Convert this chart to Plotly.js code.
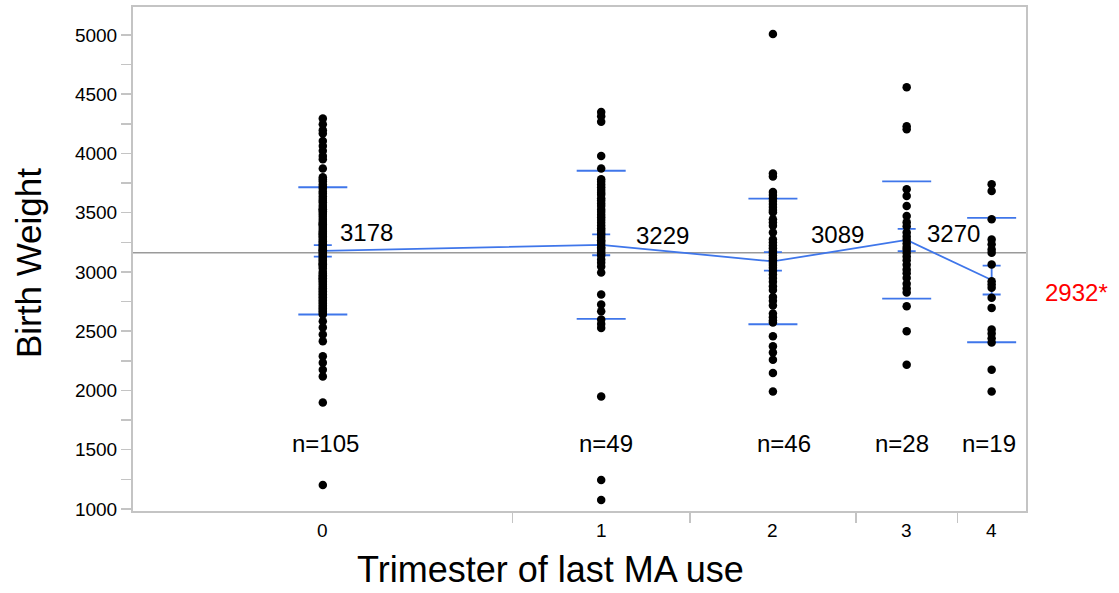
<!DOCTYPE html>
<html>
<head>
<meta charset="utf-8">
<script src="https://cdn.plot.ly/plotly-3.0.1.min.js"></script>
<style>html,body{margin:0;padding:0;background:#fff}#chart{width:1119px;height:593px}</style>
</head>
<body>
<div id="chart"></div>
<script>
// ---- data ----
const categories = ["0", "1", "2", "3", "4"];
const groupN = [105, 49, 46, 28, 19];
const groupMeans = [3178, 3229, 3089, 3270, 2932];
const meanLabels = ["3178", "3229", "3089", "3270", "2932*"];
const groupSD = [537, 625, 530, 495, 525];
const groupSE = [48, 88, 78, 94, 122];
const grandMean = 3163;
const yTickVals = [1000, 1500, 2000, 2500, 3000, 3500, 4000, 4500, 5000];

const weights0 = [4296, 4247, 4197, 4169, 4106, 4064, 4022, 3979, 3951, 3873,
  3800, 3782, 3765, 3741, 3722, 3705, 3680, 3663, 3640, 3618, 3601, 3588, 3566, 3549, 3527,
  3512, 3498, 3482, 3466, 3447, 3431, 3416, 3400, 3388, 3371, 3355, 3342, 3329, 3314, 3300,
  3288, 3271, 3260, 3247, 3235, 3222, 3210, 3197, 3185, 3172, 3160, 3148, 3137, 3121, 3110,
  3096, 3085, 3071, 3058, 3045, 3030, 3002, 2988, 2972, 2961, 2948, 2933, 2919, 2906, 2894,
  2878, 2863, 2851, 2838, 2822, 2811, 2797, 2786, 2771, 2759, 2746, 2733, 2718, 2705, 2692,
  2679, 2666, 2653, 2641, 3530, 3405, 3183, 2942, 3320, 3065,
  2584, 2531, 2472, 2415, 2288, 2235, 2175, 2119, 1899, 1203];
const weights1 = [4349, 4315, 4267, 3979, 3873,
  3782, 3761, 3738, 3714, 3692, 3668, 3651, 3622, 3603, 3578, 3556, 3528, 3507, 3482, 3461,
  3438, 3416, 3392, 3369, 3351, 3328, 3311, 3289, 3268, 3252, 3231, 3208, 3196, 3178, 3159, 3140,
  3106, 3078, 3047, 2996, 2810, 2725, 2669, 2598, 2560, 2528, 1950, 1245, 1076];
const weights2 = [5008, 3830, 3805,
  3675, 3650, 3622, 3598, 3574, 3548, 3524, 3505,
  3444, 3418, 3390, 3334,
  3275, 3248, 3224, 3200, 3178, 3160, 3138, 3118, 3098, 3078, 3058, 3036, 3008, 2978, 2949,
  2918, 2879, 2848, 2788, 2757, 2718, 2650, 2619, 2590, 2573,
  2457, 2373, 2320, 2260, 2148, 1992];
const weights3 = [4558, 4230, 4205, 3698, 3641, 3557, 3472, 3419, 3385, 3334, 3300, 3270, 3240,
  3210, 3190, 3160, 3130, 3100, 3060, 3021, 2990, 2950, 2900, 2860, 2827, 2711, 2499, 2218];
const weights4 = [3740, 3683, 3444, 3275, 3233, 3190, 3162, 3064, 2922, 2894, 2866, 2782, 2697,
  2514, 2480, 2440, 2404, 2175, 1992];
const groupWeights = [weights0, weights1, weights2, weights3, weights4];

// ---- layout of categories: width proportional to group size ----
const total = groupN.reduce((a, b) => a + b, 0);
const centers = [], bounds = [];
let acc = 0;
groupN.forEach((n, i) => {
  centers.push(acc + n / 2);
  acc += n;
  if (i < groupN.length - 1) bounds.push(acc);
});

const blue = '#3f76ea';
const font = 'Liberation Sans, Arial, Helvetica, sans-serif';

const dotX = [], dotY = [];
groupWeights.forEach((arr, i) => arr.forEach(v => { dotX.push(centers[i]); dotY.push(v); }));

const traces = [
  { // SD lines
    x: centers.concat(centers),
    y: groupMeans.map((m, i) => m + groupSD[i]).concat(groupMeans.map((m, i) => m - groupSD[i])),
    mode: 'markers', type: 'scatter', hoverinfo: 'skip',
    marker: { symbol: 'line-ew', size: 35, line: { color: blue, width: 1.8 } }
  },
  { // mean line with SE bars
    x: centers, y: groupMeans, mode: 'lines', type: 'scatter',
    line: { color: blue, width: 1.8 },
    error_y: { type: 'data', array: groupSE, visible: true, color: blue, thickness: 1.8, width: 9 }
  },
  { // data points
    x: dotX, y: dotY, mode: 'markers', type: 'scatter',
    marker: { color: '#000', size: 8.5 }
  }
];

const annotations = [];
const meanShift = [[44, 18], [61, 9], [65, 27], [47, 6], [85, -12]];
groupMeans.forEach((m, i) => {
  annotations.push({
    x: centers[i], y: m, xref: 'x', yref: 'y', text: meanLabels[i], showarrow: false,
    xshift: meanShift[i][0], yshift: meanShift[i][1],
    font: { family: font, size: 24, color: i === 4 ? '#ff0000' : '#000' }
  });
});
const nShift = [3, 5, 11, -5, -3];
groupN.forEach((n, i) => {
  annotations.push({
    x: centers[i], y: 1549, xref: 'x', yref: 'y', text: 'n=' + n, showarrow: false,
    xshift: nShift[i], font: { family: font, size: 24, color: '#000' }
  });
});
categories.forEach((c, i) => {
  annotations.push({
    x: centers[i], y: -0.038, xref: 'x', yref: 'paper', yanchor: 'middle', text: c,
    showarrow: false, font: { family: font, size: 19, color: '#000' }
  });
});
annotations.push({
  x: -0.1176, y: 0.492, xref: 'paper', yref: 'paper', text: 'Birth Weight', textangle: -90,
  showarrow: false, xanchor: 'center', yanchor: 'middle', font: { family: font, size: 35, color: '#000' }
});
annotations.push({
  x: 0.468, y: -0.117, xref: 'paper', yref: 'paper', text: 'Trimester of last MA use',
  showarrow: false, xanchor: 'center', yanchor: 'middle', font: { family: font, size: 36, color: '#000' }
});

const layout = {
  width: 1119, height: 593,
  margin: { l: 133, r: 93, t: 7, b: 82 },
  paper_bgcolor: '#fff', plot_bgcolor: '#fff',
  showlegend: false,
  font: { family: font, color: '#000' },
  xaxis: {
    range: [0, total], tickvals: bounds, showticklabels: false,
    ticks: 'outside', ticklen: 10, tickwidth: 1.5, tickcolor: '#c4c4c4',
    showgrid: false, zeroline: false, showline: true, linecolor: '#c4c4c4', linewidth: 2, mirror: true
  },
  yaxis: {
    range: [983, 5236], tickvals: yTickVals, ticks: 'outside', ticklen: 10, tickwidth: 1.5,
    tickcolor: '#c4c4c4', tickfont: { family: font, size: 19, color: '#000' },
    minor: { tickvals: [1250, 1750, 2250, 2750, 3250, 3750, 4250, 4750], ticks: 'outside', ticklen: 10, tickwidth: 1.5, tickcolor: '#c4c4c4', showgrid: false },
    showgrid: false, zeroline: false, showline: true, linecolor: '#c4c4c4', linewidth: 2, mirror: true
  },
  shapes: [{
    type: 'line', xref: 'paper', x0: 0, x1: 1, yref: 'y', y0: grandMean, y1: grandMean,
    line: { color: '#9a9a9a', width: 1.5 }, layer: 'below'
  }],
  annotations: annotations
};

Plotly.newPlot('chart', traces, layout, { displayModeBar: false, staticPlot: true });
</script>
</body>
</html>
